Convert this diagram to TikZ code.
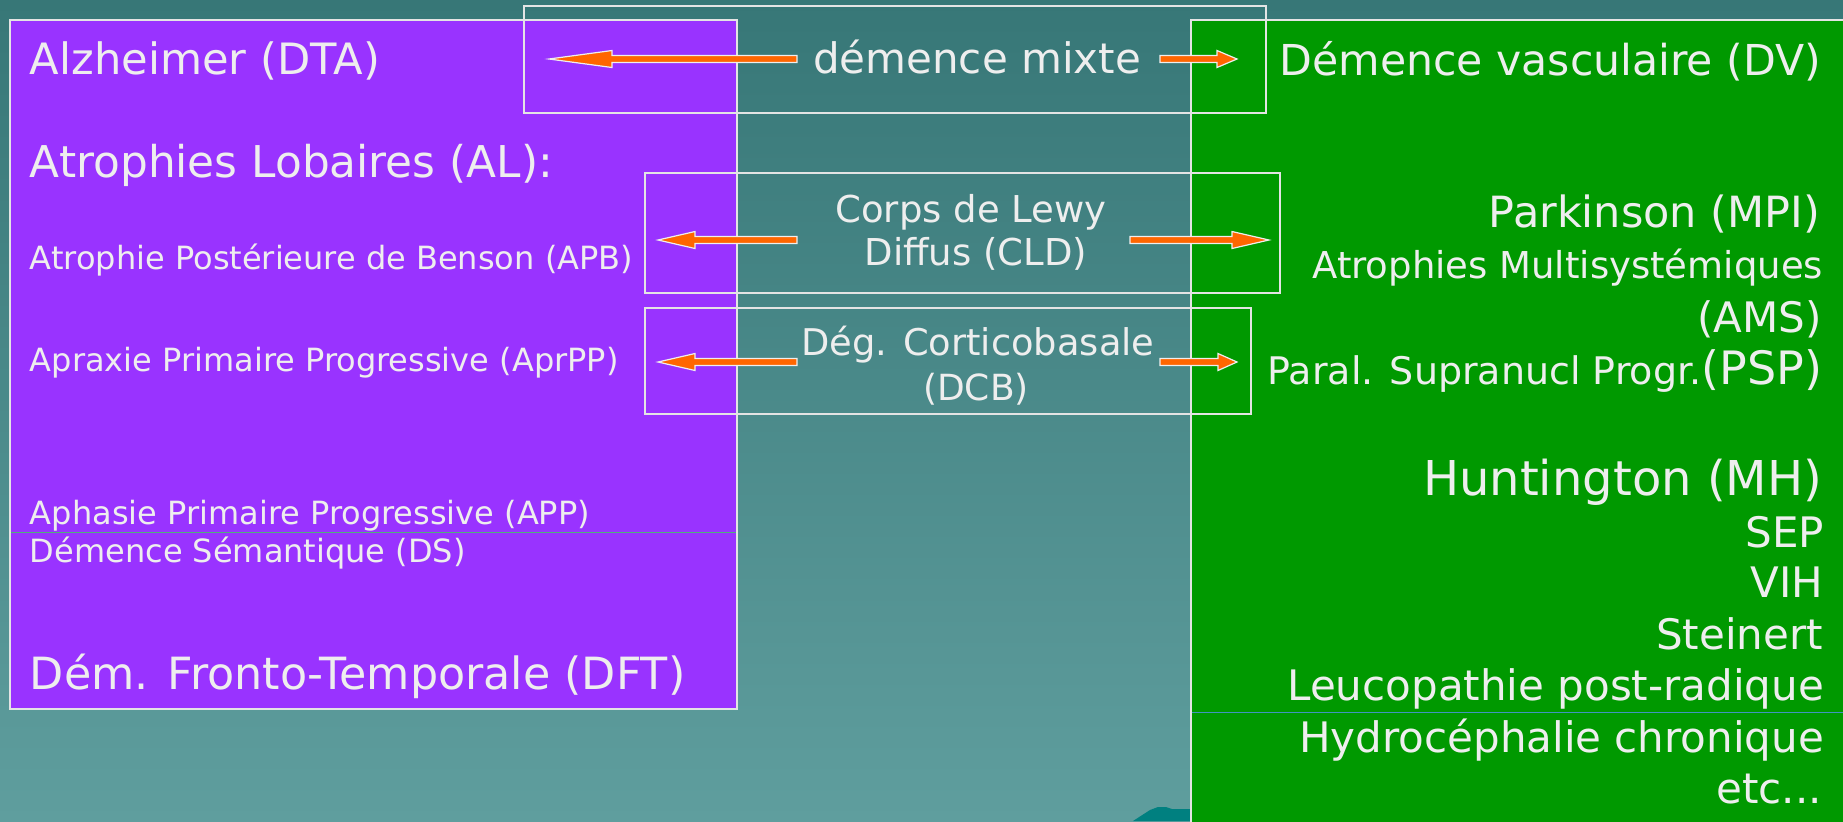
\documentclass[tikz,border=0pt]{standalone}
\usepackage{fontspec}
\setmainfont{DejaVu Sans}
\usetikzlibrary{calc}

\definecolor{bgtop}{HTML}{377777}
\definecolor{bgbot}{HTML}{5F9E9E}
\definecolor{dpurple}{HTML}{9933FF}
\definecolor{dgreen}{HTML}{009900}
\definecolor{ink}{HTML}{EEEEEE}
\definecolor{framecol}{HTML}{E4E4E4}
\definecolor{arrowfill}{HTML}{FF6600}
\definecolor{sepA}{HTML}{4FB07C}
\definecolor{sepB}{HTML}{3F95C0}
\definecolor{blob}{HTML}{008080}

% block arrow: tail, head base, tip (all named coordinates)
\newcommand\blockarrow[3]{%
  \draw[blockarr] let \p1=(#1), \p2=(#2), \p3=(#3) in
    ({\x1},{\y1+1.75pt}) -- ({\x2},{\y1+1.75pt}) -- ({\x2},{\y1+4.25pt}) --
    (\p3) -- ({\x2},{\y1-4.25pt}) -- ({\x2},{\y1-1.75pt}) --
    ({\x1},{\y1-1.75pt}) -- cycle;}

\tikzset{
  frame/.style={draw=framecol, line width=1pt},
  blockarr/.style={fill=arrowfill, draw=ink, line width=0.6pt, line join=miter},
  txt/.style={text=ink, inner sep=0pt, outer sep=0pt},
  lft/.style={txt, anchor=base west},
  rgt/.style={txt, anchor=base east},
  mid/.style={txt, anchor=base},
  fs/.style={font=\fontsize{#1}{#1}\selectfont},
}

\begin{document}
\begin{tikzpicture}[x=0.5pt, y=-0.5pt]
\useasboundingbox (0,0) rectangle (1843,821);

% background
\shade[top color=bgtop, bottom color=bgbot] (0,0) rectangle (1843,821);

% coloured panels
\fill[dpurple] (10,20) rectangle (737,709);
\fill[dgreen] (1191,20) rectangle (1850,830);
\fill[blob] (1133,821) -- (1150,810) -- (1158,807) -- (1166,807) -- (1172,809) -- (1190,809) -- (1190,821) -- cycle;

% thin separators
\draw[sepA, line width=0.5pt] (11,532) -- (736,532);
\draw[sepB, line width=0.5pt] (1192,712) -- (1843,712);

% frames
\draw[frame] (10,20) rectangle (737,709);
\draw[frame] (1191,830) -- (1191,20) -- (1850,20);
\draw[frame] (524,6) rectangle (1266,113);
\draw[frame] (645,173) rectangle (1280,293);
\draw[frame] (645,308) rectangle (1251,414);

% left column
\node[lft, fs=21.6] (dta)   at (30,74)  {Alzheimer (DTA)};
\node[lft, fs=21.9] (al)    at (30,177) {Atrophies Lobaires (AL):};
\node[lft, fs=16]   (apb)   at (30,269) {Atrophie Postérieure de Benson (APB)};
\node[lft, fs=16]   (aprpp) at (30,371) {Apraxie Primaire Progressive (AprPP)};
\node[lft, fs=16]   (app)   at (30,524) {Aphasie Primaire Progressive (APP)};
\node[lft, fs=16]   (ds)    at (30,562) {Démence Sémantique (DS)};
\node[lft, fs=22.2] (dft)   at (30,689) {Dém. Fronto-Temporale (DFT)};

% middle column
\node[mid, fs=21]   (mixte) at (977,73)  {démence mixte};
\node[mid, fs=18.5] (cldA)  at (971,222) {Corps de Lewy};
\node[mid, fs=18.5] (cldB)  at (976,265) {Diffus (CLD)};
\node[mid, fs=18.4] (dcbA)  at (978,355) {Dég. Corticobasale};
\node[mid, fs=18]   (dcbB)  at (976,400) {(DCB)};

% right column
\node[rgt, fs=21.3] (dv)    at (1821,75)  {Démence vasculaire (DV)};
\node[rgt, fs=21.5] (mpi)   at (1820,227) {Parkinson (MPI)};
\node[rgt, fs=18.5] (amsA)  at (1823,278) {Atrophies Multisystémiques};
\node[rgt, fs=21]   (amsB)  at (1822,332) {(AMS)};
\node[rgt]          (psp)   at (1822,384) {\fontsize{19}{19}\selectfont Paral. Supranucl Progr.\fontsize{23}{23}\selectfont(PSP)};
\node[rgt, fs=24]   (mh)    at (1822,495) {Huntington (MH)};
\node[rgt, fs=21]   (sep)   at (1824,547) {SEP};
\node[rgt, fs=21]   (vih)   at (1823,597) {VIH};
\node[rgt, fs=21]   (stein) at (1823,649) {Steinert};
\node[rgt, fs=21]   (leuco) at (1824,700) {Leucopathie post-radique};
\node[rgt, fs=21]   (hydro) at (1824,752) {Hydrocéphalie chronique};
\node[rgt, fs=21]   (etc)   at (1822,803) {etc...};

% arrow anchor points
\coordinate (mxLt) at (797,59);  \coordinate (mxLb) at (612,59);  \coordinate (mxLp) at (549,59);
\coordinate (mxRt) at (1160,59); \coordinate (mxRb) at (1217,59); \coordinate (mxRp) at (1237,59);
\coordinate (clLt) at (797,240); \coordinate (clLb) at (695,240); \coordinate (clLp) at (658,240);
\coordinate (clRt) at (1130,240);\coordinate (clRb) at (1232,240);\coordinate (clRp) at (1269,240);
\coordinate (dcLt) at (797,362); \coordinate (dcLb) at (695,362); \coordinate (dcLp) at (658,362);
\coordinate (dcRt) at (1160,362);\coordinate (dcRb) at (1218,362);\coordinate (dcRp) at (1237,362);

\blockarrow{mxLt}{mxLb}{mxLp}
\blockarrow{mxRt}{mxRb}{mxRp}
\blockarrow{clLt}{clLb}{clLp}
\blockarrow{clRt}{clRb}{clRp}
\blockarrow{dcLt}{dcLb}{dcLp}
\blockarrow{dcRt}{dcRb}{dcRp}
\end{tikzpicture}
\end{document}
